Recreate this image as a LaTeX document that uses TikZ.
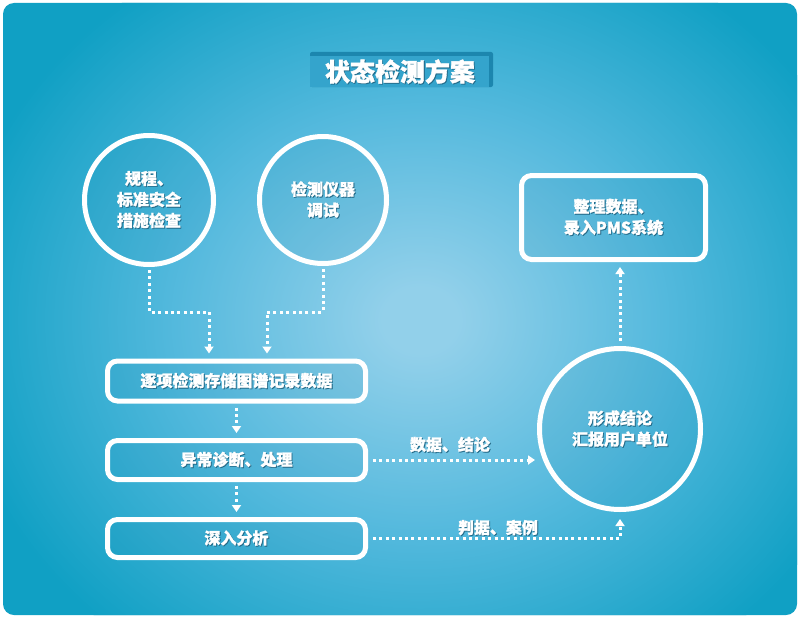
\documentclass[tikz,border=0pt]{standalone}
\usepackage{fontspec}
\newfontfamily\cjk{Noto Sans CJK SC}[BoldFeatures={FakeBold=1.4}]
\usetikzlibrary{arrows.meta}
\definecolor{bgin}{RGB}{146,208,234}
\definecolor{bgmid}{RGB}{84,185,221}
\definecolor{bgout}{RGB}{16,160,196}
\definecolor{titlec}{RGB}{52,164,204}
\definecolor{titled}{RGB}{28,134,174}
\definecolor{shadowc}{RGB}{36,106,136}
\definecolor{boxfill}{RGB}{0,110,150}
\pgfdeclareradialshading{bgshade}{\pgfpoint{0bp}{0bp}}{color(0bp)=(bgin); color(2bp)=(bgin); color(13bp)=(bgmid); color(25bp)=(bgout); color(50bp)=(bgout)}
\newcommand\shd[1]{\leavevmode\rlap{\kern0.9pt\raisebox{-0.9pt}{\textcolor{shadowc}{#1}}}#1}
\tikzset{
  lbl/.style={text=white, font=\cjk\bfseries\fontsize{16pt}{21pt}\selectfont, align=center, inner sep=0pt},
  circnode/.style={circle, draw=white, line width=5pt, fill=boxfill, fill opacity=0.07, text opacity=1, lbl},
  boxnode/.style={rectangle, rounded corners=10pt, draw=white, line width=5pt, fill=boxfill, fill opacity=0.08, text opacity=1, lbl},
  dotline/.style={draw=white, line width=3pt, dash pattern=on 3pt off 3.4pt},
  dotarrow/.style={dotline, -{Triangle[width=9pt,length=7pt]}},
}
\begin{document}
\begin{tikzpicture}[x=1pt,y=-1pt]
\useasboundingbox (0,0) rectangle (800,618);
\fill[white] (0,0) rectangle (800,618);
\begin{scope}
  \clip[rounded corners=11pt] (3,3) rectangle (797,615);
  \fill[bgout] (0,0) rectangle (800,618);
  \shade[shading=bgshade] (420,320) ellipse (470 and 410);
\end{scope}
% title
\fill[titled, rounded corners=2pt] (310,52) rectangle (493,87);
\fill[titlec] (310,56) rectangle (489,87);
\node[lbl, font=\cjk\bfseries\fontsize{25pt}{28pt}\selectfont] (title) at (400,72) {\shd{状态检测方案}};
% nodes
\node[circnode, minimum size=129pt] (circ1) at (149,200) {\shd{规程、}\\\shd{标准安全}\\\shd{措施检查}};
\node[circnode, minimum size=127pt] (circ2) at (323,200) {\shd{检测仪器}\\\shd{调试}};
\node[circnode, minimum size=161pt] (circ3) at (620,429) {\shd{形成结论}\\\shd{汇报用户单位}};
\node[boxnode, minimum width=258pt, minimum height=40pt] (box1) at (236.5,381) {\shd{逐项检测存储图谱记录数据}};
\node[boxnode, minimum width=258pt, minimum height=39pt] (box2) at (236.5,460) {\shd{异常诊断、处理}};
\node[boxnode, minimum width=258pt, minimum height=38pt] (box3) at (236.5,538.5) {\shd{深入分析}};
\node[boxnode, minimum width=184pt, minimum height=84pt] (box4) at (613.5,217.5) {\shd{整理数据、}\\\shd{录入PMS系统}};
% connectors
\coordinate (j1) at (209,312);
\coordinate (j2) at (267,312);
\draw[dotarrow, shorten <=3pt, shorten >=5pt] (circ1.south) |- (j1) -- (j1 |- box1.north);
\draw[dotarrow, shorten <=3pt, shorten >=5pt] (circ2.south) |- (j2) -- (j2 |- box1.north);
\draw[dotarrow, shorten <=4pt, shorten >=5pt] (box1.south) -- (box2.north);
\draw[dotarrow, shorten <=4pt, shorten >=5pt] (box2.south) -- (box3.north);
\draw[dotarrow, shorten <=5pt, shorten >=2pt] (box2.east) -- (box2.east -| circ3.west);
\draw[dotarrow, shorten <=5pt, shorten >=7pt] (box3.east) -| (circ3.south);
\draw[dotarrow, shorten <=5pt, shorten >=5pt] (circ3.north) -- (circ3.north |- box4.south);
% connector labels
\node[lbl] (l1) at (450,445) {\shd{数据、结论}};
\node[lbl] (l2) at (498,528) {\shd{判据、案例}};
\end{tikzpicture}
\end{document}
